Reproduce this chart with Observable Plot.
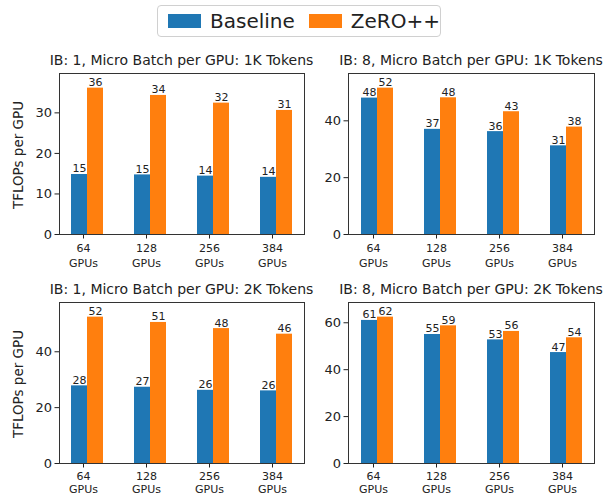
<!DOCTYPE html>
<html><head><meta charset="utf-8">
<script src="https://cdn.jsdelivr.net/npm/d3@7"></script>
<script src="https://cdn.jsdelivr.net/npm/@observablehq/plot@0.6"></script>
<style>
body{margin:0;background:#fff;font-family:"DejaVu Sans",sans-serif;}
#root{position:relative;width:606px;height:497px;overflow:hidden;}
.title{position:absolute;font-size:14px;line-height:16px;color:#222;text-align:center;white-space:nowrap;}
.ylab{position:absolute;font-size:13.5px;line-height:16px;color:#222;white-space:nowrap;width:160px;text-align:center;transform:rotate(-90deg);}
.panel{position:absolute;}
#legend{position:absolute;left:157px;top:5px;width:284px;height:32px;border:1px solid #d0d0d0;border-radius:4px;box-sizing:border-box;display:flex;align-items:center;font-size:20px;color:#222;}
.sw{display:inline-block;width:37px;height:14px;margin-left:10px;margin-right:9px;}
</style></head><body><div id="root"><div id="legend"></div></div>
<script>
// ---- data ----
const gpus = ["64\nGPUs", "128\nGPUs", "256\nGPUs", "384\nGPUs"];
const series = ["Baseline", "ZeRO++"];
const colors = ["#1f77b4", "#ff7f0e"];
const titles = [
  "IB: 1, Micro Batch per GPU: 1K Tokens",
  "IB: 8, Micro Batch per GPU: 1K Tokens",
  "IB: 1, Micro Batch per GPU: 2K Tokens",
  "IB: 8, Micro Batch per GPU: 2K Tokens"
];
const baselineIB1_1K = [14.8, 14.7, 14.4, 14.1];
const zeroIB1_1K     = [36.1, 34.3, 32.4, 30.6];
const baselineIB8_1K = [48.0, 37.0, 36.2, 31.2];
const zeroIB8_1K     = [51.5, 48.1, 43.2, 37.8];
const baselineIB1_2K = [27.8, 27.3, 26.2, 26.0];
const zeroIB1_2K     = [52.4, 50.5, 48.3, 46.3];
const baselineIB8_2K = [61.0, 55.0, 52.7, 47.3];
const zeroIB8_2K     = [62.4, 58.7, 56.3, 53.6];
const yTicks = [[0, 10, 20, 30], [0, 20, 40], [0, 20, 40], [0, 20, 40, 60]];
const yLabel = "TFLOPs per GPU";

// ---- layout ----
const root = document.getElementById("root");
const legend = document.getElementById("legend");
series.forEach((s, i) => {
  const sw = document.createElement("span");
  sw.className = "sw"; sw.style.background = colors[i];
  if (i === 1) sw.style.marginLeft = "14px";
  legend.appendChild(sw);
  const t = document.createElement("span"); t.textContent = s;
  legend.appendChild(t);
});

const panels = [
  {b: baselineIB1_1K, z: zeroIB1_1K, left: 0,   top: 66,  width: 310, ml: 59, mr: 6,  mb: 36, lh: 1.4,  ylab: true},
  {b: baselineIB8_1K, z: zeroIB8_1K, left: 300, top: 66,  width: 306, ml: 48, mr: 12, mb: 36, lh: 1.4,  ylab: false},
  {b: baselineIB1_2K, z: zeroIB1_2K, left: 0,   top: 295, width: 310, ml: 59, mr: 6,  mb: 34, lh: 1.22, ylab: true},
  {b: baselineIB8_2K, z: zeroIB8_2K, left: 300, top: 295, width: 306, ml: 48, mr: 12, mb: 34, lh: 1.22, ylab: false}
];

panels.forEach((p, k) => {
  const rowsB = gpus.map((g, i) => ({gpu: g, value: p.b[i]}));
  const rowsZ = gpus.map((g, i) => ({gpu: g, value: p.z[i]}));
  const ymax = d3.max([...p.b, ...p.z]) * 1.1;
  const mt = 7;
  const height = mt + 161 + p.mb;
  const marks = [
    Plot.barY(rowsB, {x: "gpu", y: "value", fill: colors[0], insetRight: 16}),
    Plot.barY(rowsZ, {x: "gpu", y: "value", fill: colors[1], insetLeft: 16}),
    Plot.text(rowsB, {x: "gpu", y: "value", text: d => d3.format(".0f")(d.value), dx: -8, dy: -2, lineAnchor: "bottom", fontSize: 11, fill: "#222"}),
    Plot.text(rowsZ, {x: "gpu", y: "value", text: d => d3.format(".0f")(d.value), dx: 8, dy: -2, lineAnchor: "bottom", fontSize: 11, fill: "#222"}),
    Plot.axisY({ticks: yTicks[k], tickSize: 4.5, tickPadding: 3, fontSize: 13, label: null, stroke: "#222"}),
    Plot.axisX({tickSize: 4.5, tickPadding: 2, fontSize: 11, lineHeight: p.lh, label: null, dx: -4, stroke: "#222"}),
    Plot.frame({stroke: "#333"})
  ];
  const svg = Plot.plot({
    width: p.width, height,
    marginLeft: p.ml, marginRight: p.mr, marginTop: mt, marginBottom: p.mb,
    style: {fontFamily: "DejaVu Sans", background: "transparent", color: "#222", overflow: "visible"},
    x: {domain: gpus, paddingInner: 0.5, paddingOuter: 0.173, axis: null},
    y: {domain: [0, ymax], axis: null},
    marks
  });
  const div = document.createElement("div");
  div.className = "panel";
  div.style.left = p.left + "px"; div.style.top = p.top + "px";
  div.appendChild(svg);
  root.appendChild(div);
  const t = document.createElement("div");
  t.className = "title";
  t.textContent = titles[k];
  const frameL = p.left + p.ml, frameR = p.left + p.width - p.mr;
  t.style.left = (frameL - 60) + "px"; t.style.width = (frameR - frameL + 120) + "px";
  t.style.top = (p.top - 14) + "px";
  root.appendChild(t);
  if (p.ylab) {
    const yl = document.createElement("div");
    yl.className = "ylab";
    yl.textContent = yLabel;
    const cy = p.top + mt + 161 / 2 + 1;
    yl.style.left = (18 - 80) + "px";
    yl.style.top = (cy - 8) + "px";
    root.appendChild(yl);
  }
});
</script></body></html>
